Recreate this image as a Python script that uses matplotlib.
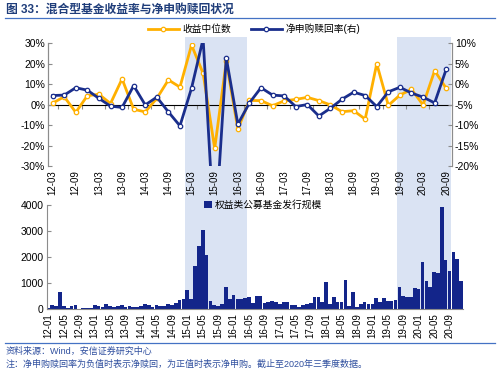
import matplotlib
matplotlib.use('Agg')
import matplotlib.pyplot as plt
import matplotlib.transforms as mtransforms
from matplotlib.lines import Line2D
from matplotlib.patches import Rectangle
import numpy as np

plt.rcParams['font.family'] = ['Liberation Sans', 'Noto Sans CJK SC']
plt.rcParams['axes.unicode_minus'] = False

# quarterly categories 12-03 .. 20-09
quarters = ['%02d-%02d' % (y, m) for y in range(12, 21) for m in (3, 6, 9, 12)][:35]
# monthly categories 12-01 .. 20-12
months = ['%02d-%02d' % (y, m) for y in range(12, 21) for m in range(1, 13)]

# 收益中位数 (%), left axis
fund_return = [0.7, 3.8, -3.8, 4.3, 5.0, 0.5, 12.5, -2.3, -3.6, 3.0,
               12.0, 8.5, 29.0, 15.2, -21.4, 21.0, -12.0, 2.0, 1.9, -0.6,
               1.8, 2.5, 3.5, 1.9, -0.2, -3.5, -3.0, -7.1, 19.9, -0.4,
               4.6, 7.4, -0.2, 16.5, 7.9]
# 净申购赎回率 (%), right axis
net_flow = [-2.8, -2.7, -0.9, -1.5, -3.5, -5.4, -5.7, -0.4, -5.1, -3.2,
            -6.8, -10.2, -1.0, 11.0, -38.0, 6.4, -9.8, -4.6, -0.9, -2.7,
            -2.9, -5.5, -5.0, -7.8, -5.9, -3.7, -2.0, -2.8, -5.5, -1.9,
            -0.8, -2.2, -3.2, -4.6, 3.6]
# 权益类公募基金发行规模 (monthly)
issuance = [50, 150, 120, 640, 100, 50, 120, 150, 0, 30, 40, 30,
            150, 130, 80, 180, 100, 90, 120, 140, 70, 100, 90, 80,
            100, 200, 150, 90, 160, 100, 100, 190, 150, 240, 360, 370,
            720, 400, 1670, 2420, 3030, 2080, 310, 170, 130, 200, 830, 390,
            540, 370, 390, 410, 460, 240, 510, 510, 240, 270, 320, 280,
            180, 270, 255, 155, 155, 90, 165, 190, 220, 450, 460, 270,
            1050, 190, 475, 255, 270, 1115, 115, 650, 65, 180, 280, 205,
            180, 420, 255, 435, 320, 310, 360, 830, 490, 475, 450, 810,
            755, 1820, 1075, 860, 1435, 1370, 3935, 1870, 1475, 2205, 1910, 1075]

# shaded periods (month labels)
shade_periods = [('15-01', '16-04'), ('19-08', '20-09')]

orange = '#FFB000'
navy = '#1A2E8C'
bar_color = '#13258A'
grey = '#8C8C8C'
title_blue = '#1F3D7A'

fig = plt.figure(figsize=(5, 3.74), dpi=100)

ax1 = fig.add_axes([0.096, 0.556, 0.808, 0.329])
ax1r = ax1.twinx()
ax2 = fig.add_axes([0.093, 0.174, 0.833, 0.278])
for a in (ax1, ax1r, ax2):
    a.set_facecolor('none')

# shading spanning both panels
trans = mtransforms.blended_transform_factory(ax2.transData, fig.transFigure)
for start, end in shade_periods:
    x0 = months.index(start) - 0.5
    x1 = months.index(end) + 0.5
    rect = Rectangle((x0, 0.174), x1 - x0, 0.901 - 0.174, transform=trans,
                     facecolor='#DAE3F3', edgecolor='none', zorder=-1)
    fig.add_artist(rect)

# top chart
x = np.arange(len(quarters))
ax1.plot(x, fund_return, color=orange, lw=2, marker='o', ms=3.2,
         mfc='white', mec=orange, mew=0.9)
ax1r.plot(x, net_flow, color=navy, lw=2, marker='o', ms=3.2,
          mfc='white', mec=navy, mew=0.9)

ax1.set_xlim(-0.4, 34.5)
ax1.set_ylim(-30, 30)
ax1.set_yticks(range(-30, 31, 10))
ax1.set_yticklabels(['%d%%' % v for v in range(-30, 31, 10)])
ax1r.set_ylim(-20, 10)
ax1r.set_yticks(range(-20, 11, 5))
ax1r.set_yticklabels(['%d%%' % v for v in range(-20, 11, 5)])

ax1.set_xticks(x[::2])
ax1.set_xticklabels(quarters[::2], rotation=90)
ax1.tick_params(axis='x', length=0, pad=3, labelsize=7)
ax1.tick_params(axis='y', direction='in', length=3, color=grey, labelsize=7.5, pad=2)
ax1r.tick_params(axis='y', direction='in', length=3, color=grey, labelsize=7.5, pad=2)

for a in (ax1, ax1r):
    a.spines['top'].set_visible(False)
    a.spines['bottom'].set_visible(False)
    a.spines['left'].set_color(grey)
    a.spines['right'].set_color(grey)

# zero line of the left axis, with small ticks
zero = ax1.secondary_xaxis(0.5)
zero.set_xticks(np.arange(0.5, 34, 2))
zero.set_xticklabels([])
zero.tick_params(axis='x', direction='in', length=3, color=grey)
zero.spines['bottom'].set_color(grey)

# bottom chart
m = np.arange(len(months))
ax2.bar(m, issuance, width=0.95, color=bar_color, label='权益类公募基金发行规模')
ax2.set_xlim(-0.5, len(months) - 0.5)
ax2.set_ylim(0, 4000)
ax2.set_yticks(range(0, 4001, 1000))
ax2.set_xticks(m[:105:4])
ax2.set_xticklabels(months[:105:4], rotation=90)
ax2.tick_params(axis='x', length=0, pad=3, labelsize=7)
ax2.tick_params(axis='y', direction='in', length=3, color=grey, labelsize=7.5, pad=2)
ax2.spines['top'].set_visible(False)
ax2.spines['right'].set_visible(False)
ax2.spines['left'].set_color(grey)
ax2.spines['bottom'].set_color(grey)

# legends
handles = [Line2D([], [], color=orange, lw=2, marker='o', ms=3.2, mfc='white', mec=orange, mew=0.9),
           Line2D([], [], color=navy, lw=2, marker='o', ms=3.2, mfc='white', mec=navy, mew=0.9)]
fig.legend(handles, ['收益中位数', '净申购赎回率(右)'], loc='center',
           bbox_to_anchor=(0.508, 1 - 29 / 374), ncol=2, frameon=False,
           fontsize=7, handlelength=3.2, columnspacing=2.0, handletextpad=0.4)
ax2.legend(loc='upper left', bbox_to_anchor=(0.408, 1 - 200 / 374),
           bbox_transform=fig.transFigure, frameon=False, fontsize=7,
           handlelength=0.8, handleheight=0.8, handletextpad=0.3,
           borderpad=0, borderaxespad=0)

# title, lines, footer
fig.text(0.012, 1 - 10 / 374, '图 33：混合型基金收益率与净申购赎回状况', va='center',
         fontsize=8.5, fontweight='bold', color=title_blue)
fig.add_artist(Line2D([0.01, 0.99], [1 - 18 / 374] * 2, color='#4472C4', lw=0.9))
fig.add_artist(Line2D([0.01, 0.99], [1 - 343 / 374] * 2, color='#4472C4', lw=0.9))
fig.text(0.012, 1 - 351 / 374, '资料来源：Wind，安信证券研究中心', va='center',
         fontsize=6.5, color='#2F4F9F')
fig.text(0.012, 1 - 364 / 374, '注：净申购赎回率为负值时表示净赎回，为正值时表示净申购。截止至2020年三季度数据。',
         va='center', fontsize=6.5, color='#2F4F9F')

fig.savefig('out.png', dpi=100)
